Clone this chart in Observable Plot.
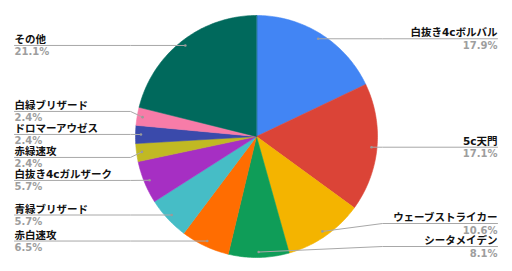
<!DOCTYPE html>
<html>
<head>
<meta charset="utf-8">
<script src="https://cdn.jsdelivr.net/npm/d3@7"></script>
<script src="https://cdn.jsdelivr.net/npm/@observablehq/plot@0.6"></script>
<style>
  body { margin: 0; background: #fff; }
</style>
</head>
<body>
<div id="chart"></div>
<script>
// Deck shares (%), clockwise from 12 o'clock
const decks = ["白抜き4cボルバル", "5c天門", "ウェーブストライカー", "シータメイデン", "赤白速攻",
  "青緑ブリザード", "白抜き4cガルザーク", "赤緑速攻", "ドロマーアウゼス", "白緑ブリザード", "その他"];
const shares = [17.9, 17.1, 10.6, 8.1, 6.5, 5.7, 5.7, 2.4, 2.4, 2.4, 21.1];
const colors = ["#4285f4", "#db4437", "#f4b400", "#0f9d58", "#ff6d01", "#46bdc6",
  "#a62fc3", "#c1b923", "#3a4aab", "#f77ca8", "#00695c"];

const W = 512, H = 271;
const cx = 256, cy = 136, R = 121;      // pie centre and radius in pixels
const anchorR = 0.955;                  // where leader lines start, as a fraction of R
const labelGap = 23 / R;                // minimum vertical spacing between labels
const bottomLimit = (cy - 246) / R;     // lowest allowed label line
const leftTextX = (14 - cx) / R;
const rightTextX = (497 - cx) / R;
const bendOut = (R + 5) / R;

const rows = decks.map((name, i) => ({name, share: shares[i]}));
const arcs = d3.pie().sort(null).value(d => d.share)(rows);

// Slice outlines in unit coordinates (y up, angle clockwise from top)
const slicePts = arcs.flatMap(a => {
  const n = Math.max(2, Math.ceil((a.endAngle - a.startAngle) / (Math.PI / 180)));
  const pts = [{name: a.data.name, x: 0, y: 0}];
  for (let k = 0; k <= n; k++) {
    const t = a.startAngle + (a.endAngle - a.startAngle) * k / n;
    pts.push({name: a.data.name, x: Math.sin(t), y: Math.cos(t)});
  }
  return pts;
});

// Label anchors and sides
const labels = arcs.map(a => {
  const m = (a.startAngle + a.endAngle) / 2;
  const ax = anchorR * Math.sin(m), ay = anchorR * Math.cos(m);
  return {name: a.data.name, pct: a.data.share.toFixed(1) + "%", ax, ay, ly: ay, left: m > Math.PI};
});

// Push overlapping labels apart on each side
function spread(items) {
  items.sort((a, b) => b.ly - a.ly);
  for (let k = 0; k < 300; k++) {
    for (let i = 1; i < items.length; i++) {
      const d = items[i - 1].ly - items[i].ly;
      if (d < labelGap) {
        const o = (labelGap - d) / 2;
        items[i - 1].ly += o;
        items[i].ly -= o;
      }
    }
    for (const it of items) it.ly = Math.max(bottomLimit, it.ly);
  }
}
spread(labels.filter(d => d.left));
spread(labels.filter(d => !d.left));

const leaderPts = labels.flatMap(d => {
  const s = d.left ? -1 : 1;
  return [
    {name: d.name, x: d.ax, y: d.ay},
    {name: d.name, x: s * bendOut, y: d.ly},
    {name: d.name, x: d.left ? leftTextX : rightTextX, y: d.ly}
  ];
});

const nameFont = `"DejaVu Sans", "Noto Sans CJK JP", sans-serif`;
const left = labels.filter(d => d.left);
const right = labels.filter(d => !d.left);

function textMarks(data, tx, anchor) {
  return [
    Plot.text(data, {x: () => tx, y: "ly", text: "name", textAnchor: anchor, lineAnchor: "bottom",
      dy: -2.5, fontSize: 10.5, fontWeight: "bold", fontFamily: nameFont, fill: "#111"}),
    Plot.text(data, {x: () => tx, y: "ly", text: "pct", textAnchor: anchor, lineAnchor: "bottom",
      dy: 10, fontSize: 10, fontWeight: "bold", fontFamily: `"DejaVu Sans", sans-serif`, fill: "#9e9e9e"})
  ];
}

const chart = Plot.plot({
  width: W,
  height: H,
  margin: 0,
  x: {domain: [-1, 1], range: [cx - R, cx + R], axis: null},
  y: {domain: [-1, 1], range: [cy + R, cy - R], axis: null},
  color: {domain: decks, range: colors},
  style: {background: "#fff"},
  marks: [
    Plot.line(slicePts, {x: "x", y: "y", z: "name", fill: "name", stroke: "name", strokeWidth: 0.6, curve: "linear-closed"}),
    Plot.line(leaderPts, {x: "x", y: "y", z: "name", stroke: "#a8a8a8", strokeWidth: 1}),
    Plot.dot(labels, {x: "ax", y: "ay", r: 1.3, fill: "#9a9a9a"}),
    ...textMarks(left, leftTextX, "start"),
    ...textMarks(right, rightTextX, "end")
  ]
});
document.getElementById("chart").append(chart);
</script>
</body>
</html>
